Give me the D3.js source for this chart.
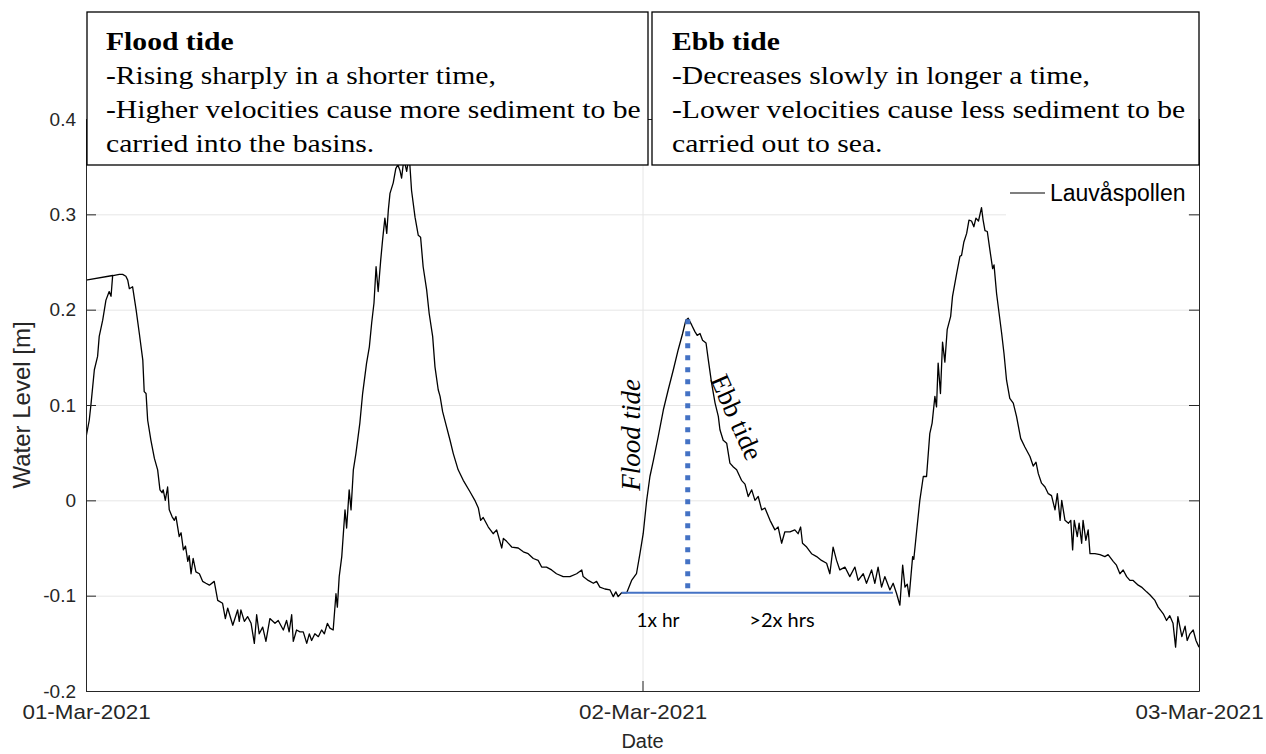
<!DOCTYPE html>
<html><head><meta charset="utf-8">
<script src="https://cdn.jsdelivr.net/npm/d3@7"></script>
<style>body{margin:0;background:#fff}svg{display:block}</style>
</head><body><svg id="c" width="1266" height="754"></svg>
<script>
// ---- data (hours since 01-Mar-2021 00:00, water level in m) ----
const hours = [0.00,0.14,0.22,0.36,0.50,0.57,0.72,0.86,1.00,1.08,1.15,0.00,1.22,1.44,1.58,1.72,1.80,1.87,2.01,2.16,2.30,2.45,2.51,2.59,2.66,2.80,2.95,3.09,3.19,3.28,3.33,3.42,3.52,3.59,3.71,3.81,3.88,4.02,4.10,4.20,4.29,4.39,4.45,4.53,4.62,4.74,4.89,5.03,5.17,5.32,5.53,5.68,5.89,6.01,6.11,6.33,6.54,6.61,6.68,6.83,6.97,7.12,7.26,7.36,7.47,7.62,7.76,7.93,8.15,8.29,8.51,8.65,8.76,8.87,8.94,9.08,9.23,9.37,9.52,9.63,9.73,9.87,10.02,10.16,10.28,10.41,10.52,10.66,10.78,10.84,10.92,11.03,11.17,11.24,11.35,11.43,11.53,11.64,11.81,11.93,12.10,12.22,12.32,12.42,12.51,12.60,12.71,12.79,12.89,12.97,13.04,13.11,13.25,13.36,13.45,13.54,13.61,13.71,13.83,13.94,14.04,14.19,14.33,14.43,14.54,14.69,14.80,14.95,15.05,15.19,15.27,15.38,15.55,15.70,15.84,16.05,16.27,16.56,16.77,16.92,17.02,17.13,17.35,17.56,17.71,17.93,18.00,18.14,18.36,18.64,18.86,19.07,19.29,19.50,19.65,19.86,20.08,20.29,20.58,20.87,21.16,21.38,21.44,21.66,21.88,22.02,22.16,22.38,22.60,22.74,22.85,22.95,23.10,23.32,23.53,23.74,23.89,24.03,24.18,24.32,24.47,24.68,24.90,25.11,25.33,25.54,25.73,25.87,25.97,26.12,26.26,26.36,26.48,26.59,26.74,26.84,26.98,27.13,27.27,27.34,27.48,27.63,27.77,27.92,28.06,28.27,28.42,28.56,28.71,28.85,28.99,29.14,29.28,29.50,29.71,29.85,30.00,30.14,30.36,30.57,30.71,30.82,30.90,31.08,31.29,31.51,31.72,31.94,32.08,32.22,32.37,32.51,32.73,32.94,33.16,33.30,33.52,33.66,33.88,34.02,34.16,34.31,34.45,34.67,34.81,34.96,35.10,35.22,35.32,35.42,35.50,35.65,35.70,35.82,35.96,36.11,36.25,36.39,36.49,36.61,36.68,36.75,36.85,36.94,37.04,37.14,37.29,37.37,37.55,37.69,37.76,37.86,37.98,38.08,38.19,38.29,38.38,38.49,38.62,38.69,38.77,38.87,38.98,39.10,39.16,39.27,39.38,39.49,39.59,39.70,39.84,39.99,40.13,40.31,40.49,40.71,40.85,40.97,41.07,41.21,41.36,41.50,41.64,41.79,41.89,42.01,42.08,42.22,42.37,42.47,42.55,42.62,42.75,42.83,42.94,43.00,43.12,43.22,43.30,43.51,43.73,43.94,44.08,44.30,44.44,44.59,44.73,44.88,45.02,45.16,45.38,45.52,45.74,45.88,46.10,46.24,46.46,46.60,46.74,46.88,46.99,47.09,47.26,47.40,47.49,47.61,47.75,47.87,48.00];
const levels = [0.066,0.084,0.102,0.137,0.151,0.172,0.189,0.210,0.219,0.214,0.236,0.231,0.236,0.237,0.237,0.235,0.231,0.222,0.224,0.200,0.175,0.147,0.114,0.112,0.084,0.063,0.044,0.032,0.011,0.008,0.011,0.000,0.014,-0.010,-0.017,-0.021,-0.017,-0.038,-0.034,-0.052,-0.048,-0.064,-0.058,-0.077,-0.061,-0.075,-0.077,-0.085,-0.087,-0.089,-0.085,-0.105,-0.108,-0.124,-0.113,-0.131,-0.115,-0.127,-0.115,-0.127,-0.122,-0.129,-0.150,-0.120,-0.140,-0.133,-0.148,-0.124,-0.129,-0.126,-0.136,-0.126,-0.138,-0.120,-0.148,-0.136,-0.138,-0.138,-0.150,-0.140,-0.147,-0.140,-0.143,-0.136,-0.140,-0.129,-0.134,-0.136,-0.098,-0.112,-0.080,-0.059,-0.010,-0.029,0.011,-0.010,0.032,0.049,0.081,0.112,0.144,0.161,0.186,0.207,0.245,0.219,0.252,0.273,0.296,0.280,0.305,0.322,0.333,0.348,0.352,0.346,0.338,0.358,0.345,0.362,0.325,0.297,0.278,0.276,0.245,0.221,0.196,0.172,0.140,0.116,0.109,0.093,0.077,0.063,0.049,0.032,0.021,0.009,0.000,-0.008,-0.021,-0.018,-0.028,-0.035,-0.031,-0.050,-0.040,-0.043,-0.049,-0.050,-0.054,-0.056,-0.061,-0.063,-0.070,-0.070,-0.073,-0.077,-0.080,-0.080,-0.077,-0.073,-0.080,-0.084,-0.087,-0.085,-0.091,-0.093,-0.094,-0.101,-0.096,-0.101,-0.097,-0.097,-0.084,-0.077,-0.056,-0.035,0.000,0.025,0.042,0.067,0.095,0.116,0.137,0.158,0.175,0.189,0.191,0.184,0.177,0.173,0.175,0.168,0.165,0.147,0.123,0.102,0.088,0.074,0.063,0.060,0.039,0.035,0.032,0.021,0.017,0.004,0.011,0.000,0.004,-0.010,-0.008,-0.021,-0.031,-0.028,-0.045,-0.033,-0.033,-0.031,-0.035,-0.028,-0.045,-0.049,-0.056,-0.059,-0.063,-0.066,-0.077,-0.049,-0.063,-0.073,-0.070,-0.080,-0.070,-0.084,-0.077,-0.087,-0.073,-0.087,-0.070,-0.091,-0.080,-0.094,-0.087,-0.098,-0.110,-0.068,-0.091,-0.088,-0.101,-0.059,-0.062,-0.033,0.000,0.025,0.025,0.070,0.081,0.109,0.098,0.144,0.112,0.166,0.145,0.179,0.193,0.214,0.238,0.256,0.257,0.271,0.280,0.294,0.293,0.287,0.296,0.293,0.307,0.294,0.283,0.282,0.263,0.243,0.247,0.217,0.196,0.175,0.154,0.126,0.107,0.102,0.088,0.065,0.056,0.046,0.036,0.040,0.028,0.018,0.014,0.007,0.005,-0.010,0.007,-0.021,0.000,-0.021,-0.024,-0.021,-0.052,-0.021,-0.038,-0.024,-0.045,-0.021,-0.042,-0.031,-0.056,-0.056,-0.057,-0.059,-0.057,-0.064,-0.068,-0.077,-0.073,-0.080,-0.084,-0.084,-0.089,-0.091,-0.096,-0.099,-0.105,-0.112,-0.119,-0.126,-0.121,-0.129,-0.154,-0.122,-0.143,-0.132,-0.147,-0.140,-0.136,-0.147,-0.154];
const seriesName = "Lauvåspollen";
const yTicks = [-0.2,-0.1,0,0.1,0.2,0.3,0.4];
const yTickLabels = ["-0.2","-0.1","0","0.1","0.2","0.3","0.4"];
const xTickDays = [0,1,2];
const xTickLabels = ["01-Mar-2021","02-Mar-2021","03-Mar-2021"];
// tide annotation: start of flood, high water, end of ebb (hours) and levels
const tideHours = [23.10, 25.95, 34.80];
const tideLevels = [-0.097, 0.190];
const floodTitle = "Flood tide";
const floodLines = ["-Rising sharply in a shorter time,","-Higher velocities cause more sediment to be","carried into the basins."];
const ebbTitle = "Ebb tide";
const ebbLines = ["-Decreases slowly in longer a time,","-Lower velocities cause less sediment to be","carried out to sea."];
const durationLabels = ["1x hr", ">2x hrs"];

// ---- layout ----
const t0 = new Date(2021,2,1);
const toDate = h => new Date(t0.getTime() + h*3600e3);
const L=86, R=1199, T=119, B=691;
const x = d3.scaleTime().domain([t0, toDate(48)]).range([L,R]);
const y = d3.scaleLinear().domain([-0.2,0.4]).range([B,T]);
const svg = d3.select("#c");
const AX = "#262626", SANS = "'Liberation Sans', Arial, sans-serif", SERIF = "'Liberation Serif','Times New Roman',serif";

// grid
svg.append("g").attr("transform",`translate(${L},0)`)
  .call(d3.axisLeft(y).tickValues(yTicks).tickSize(-(R-L)).tickFormat(""))
  .call(g=>{g.select(".domain").remove(); g.selectAll("line").attr("stroke","#e6e6e6");});
svg.append("g").attr("transform",`translate(0,${B})`)
  .call(d3.axisBottom(x).tickValues(xTickDays.map(d=>toDate(d*24))).tickSize(-(B-T)).tickFormat(""))
  .call(g=>{g.select(".domain").remove(); g.selectAll("line").attr("stroke","#e6e6e6");});

// data line
svg.append("defs").append("clipPath").attr("id","clip").append("rect")
  .attr("x",L).attr("y",T).attr("width",R-L).attr("height",B-T);
const pts = hours.map((h,i)=>({t:toDate(h), v:levels[i]}));
svg.append("path").datum(pts).attr("clip-path","url(#clip)")
  .attr("fill","none").attr("stroke","#000").attr("stroke-width",1.3).attr("stroke-linejoin","round")
  .attr("d", d3.line().x(d=>x(d.t)).y(d=>y(d.v)));

// axes
const styleAxis = (fs) => g => { g.selectAll("path,line").attr("stroke",AX).attr("stroke-width",1);
  g.selectAll("text").attr("fill",AX).attr("font-family",SANS).attr("font-size",fs); };
svg.append("g").attr("transform",`translate(${L},0)`)
  .call(d3.axisLeft(y).tickValues(yTicks).tickSizeInner(-10).tickSizeOuter(0).tickPadding(10)
    .tickFormat((d,i)=>yTickLabels[i])).call(styleAxis(19));
svg.append("g").attr("transform",`translate(${R},0)`)
  .call(d3.axisRight(y).tickValues(yTicks).tickSizeInner(-10).tickSizeOuter(0).tickFormat("")).call(styleAxis(19));
svg.append("g").attr("transform",`translate(0,${B})`)
  .call(d3.axisBottom(x).tickValues(xTickDays.map(d=>toDate(d*24))).tickSizeInner(-10).tickSizeOuter(0).tickPadding(14)
    .tickFormat((d,i)=>xTickLabels[i])).call(styleAxis(20))
  .call(g=>g.selectAll("text").attr("transform","scale(1.12,1)"));
svg.append("g").attr("transform",`translate(0,${T})`)
  .call(d3.axisTop(x).tickValues(xTickDays.map(d=>toDate(d*24))).tickSizeInner(-10).tickSizeOuter(0).tickFormat("")).call(styleAxis(19));

// axis labels
svg.append("text").attr("x",(L+R)/2).attr("y",748).attr("text-anchor","middle")
  .attr("font-family",SANS).attr("font-size",20).attr("fill",AX).text("Date");
svg.append("text").attr("transform","translate(30,405) rotate(-90)").attr("text-anchor","middle")
  .attr("font-family",SANS).attr("font-size",24).attr("fill",AX).text("Water Level [m]");

// legend
svg.append("rect").attr("x",1006).attr("y",176).attr("width",182).attr("height",40).attr("fill","#fff");
svg.append("line").attr("x1",1010).attr("x2",1045).attr("y1",193).attr("y2",193).attr("stroke","#000").attr("stroke-width",1.2);
svg.append("text").attr("x",1050).attr("y",201).attr("font-family",SANS).attr("font-size",23).attr("fill","#000").text(seriesName);

// tide annotation
const blue = "#4472C4";
svg.append("line").attr("x1",x(toDate(tideHours[0]))).attr("x2",x(toDate(tideHours[2])))
  .attr("y1",y(tideLevels[0])).attr("y2",y(tideLevels[0])).attr("stroke",blue).attr("stroke-width",2);
svg.append("line").attr("x1",x(toDate(tideHours[1]))).attr("x2",x(toDate(tideHours[1])))
  .attr("y1",y(tideLevels[1])).attr("y2",y(tideLevels[0])).attr("stroke",blue).attr("stroke-width",5)
  .attr("stroke-dasharray","5,7");
svg.append("text").attr("transform","translate(640,435) rotate(-90)").attr("text-anchor","middle")
  .attr("font-family",SERIF).attr("font-style","italic").attr("font-size",27).text("Flood tide");
svg.append("text").attr("transform","translate(737,417) rotate(66)").attr("text-anchor","middle").attr("dy","0.35em")
  .attr("font-family",SERIF).attr("font-size",27).text("Ebb tide");
svg.append("text").attr("x",658).attr("y",627).attr("text-anchor","middle")
  .attr("font-family","Lato, 'Open Sans', sans-serif").attr("font-size",19).text(durationLabels[0]);
svg.append("text").attr("x",782).attr("y",627).attr("text-anchor","middle")
  .attr("font-family","Lato, 'Open Sans', sans-serif").attr("font-size",20).text(durationLabels[1]);

// text boxes
function box(x0, w, title, lines, tx){
  svg.append("rect").attr("x",x0).attr("y",12).attr("width",w).attr("height",153)
    .attr("fill","#fff").attr("stroke","#000").attr("stroke-width",1.3);
  const g = svg.append("g").attr("transform",`translate(${tx},0) scale(1.14,1)`);
  g.append("text").attr("x",0).attr("y",50).attr("font-family",SERIF).attr("font-weight","bold")
    .attr("font-size",26).text(title);
  lines.forEach((s,i)=> g.append("text").attr("x",0).attr("y",84+34*i).attr("font-family",SERIF)
    .attr("font-size",26).text(s));
}
box(87, 561, floodTitle, floodLines, 106);
box(652, 547, ebbTitle, ebbLines, 672);
</script></body></html>
